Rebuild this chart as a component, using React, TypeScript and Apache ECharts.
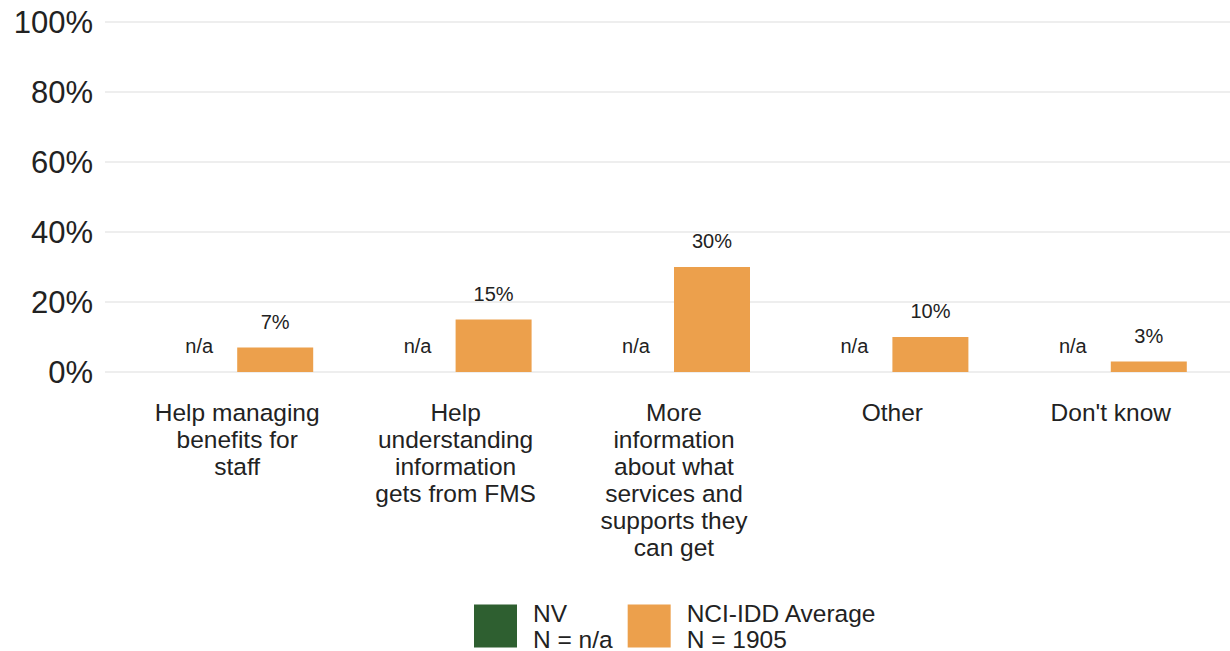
import React, { useEffect, useRef } from "react";
import * as echarts from "echarts";

const categories = [
  "Help managing\nbenefits for\nstaff",
  "Help\nunderstanding\ninformation\ngets from FMS",
  "More\ninformation\nabout what\nservices and\nsupports they\ncan get",
  "Other",
  "Don't know",
];
const nvValues: (number | null)[] = [null, null, null, null, null];
const nciValues = [7, 15, 30, 10, 3];
const yTicks = [0, 20, 40, 60, 80, 100];
const seriesNames = ["NV\nN = n/a", "NCI-IDD Average\nN = 1905"];

const GREEN = "#2e5f30";
const ORANGE = "#eca04c";
const FONT = "'Liberation Sans', Arial, sans-serif";

export default function App() {
  const ref = useRef<HTMLDivElement>(null);
  useEffect(() => {
    if (!ref.current) return;
    const chart = echarts.init(ref.current, undefined, { renderer: "svg" });
    const labelStyle = {
      show: true,
      position: "top" as const,
      distance: 16,
      fontSize: 20,
      color: "#222",
      fontFamily: FONT,
    };
    chart.setOption({
      animation: false,
      textStyle: { fontFamily: FONT },
      grid: [
        { left: 128, right: 10, top: 22, bottom: 279, containLabel: false },
        { left: 105, right: 0, top: 22, bottom: 279, containLabel: false },
      ],
      legend: {
        bottom: -6,
        left: 469,
        itemWidth: 43,
        itemHeight: 43,
        itemGap: 15,
        icon: "rect",
        textStyle: {
          fontSize: 24.5,
          lineHeight: 26,
          color: "#222",
          fontFamily: FONT,
          padding: [0, 0, 0, 11],
        },
        data: seriesNames,
      },
      xAxis: [
        {
          type: "category",
          gridIndex: 0,
          data: categories,
          axisLine: { show: false },
          axisTick: { show: false },
          axisLabel: {
            interval: 0,
            fontSize: 24.5,
            lineHeight: 27,
            margin: 27,
            color: "#222",
            fontFamily: FONT,
            verticalAlign: "top",
          },
        },
        {
          type: "category",
          gridIndex: 1,
          data: categories,
          show: false,
        },
      ],
      yAxis: [
        {
          type: "value",
          gridIndex: 0,
          min: 0,
          max: 100,
          interval: 20,
          show: false,
          splitLine: { show: false },
        },
        {
          type: "value",
          gridIndex: 1,
          min: yTicks[0],
          max: yTicks[yTicks.length - 1],
          interval: 20,
          axisLine: { show: false },
          axisTick: { show: false },
          axisLabel: {
            formatter: (v: number) => `${v}%`,
            fontSize: 31,
            color: "#222",
            margin: 12,
            fontFamily: FONT,
          },
          splitLine: { lineStyle: { color: "#e8e8e8", width: 1.5 } },
        },
      ],
      series: [
        {
          name: seriesNames[0],
          type: "bar",
          xAxisIndex: 0,
          yAxisIndex: 0,
          barWidth: 76,
          barGap: "0%",
          itemStyle: { color: GREEN },
          data: nvValues.map((v) => (v == null ? 0 : v)),
          label: {
            ...labelStyle,
            formatter: (p: any) => (nvValues[p.dataIndex] == null ? "n/a" : `${p.value}%`),
          },
        },
        {
          name: seriesNames[1],
          type: "bar",
          xAxisIndex: 0,
          yAxisIndex: 0,
          barWidth: 76,
          barGap: "0%",
          itemStyle: { color: ORANGE },
          data: nciValues,
          label: { ...labelStyle, formatter: (p: any) => `${p.value}%` },
        },
      ],
    });
    return () => chart.dispose();
  }, []);
  return (
    <div
      ref={ref}
      style={{ position: "fixed", left: 0, top: 0, width: 1230, height: 651, background: "#fff" }}
    />
  );
}
